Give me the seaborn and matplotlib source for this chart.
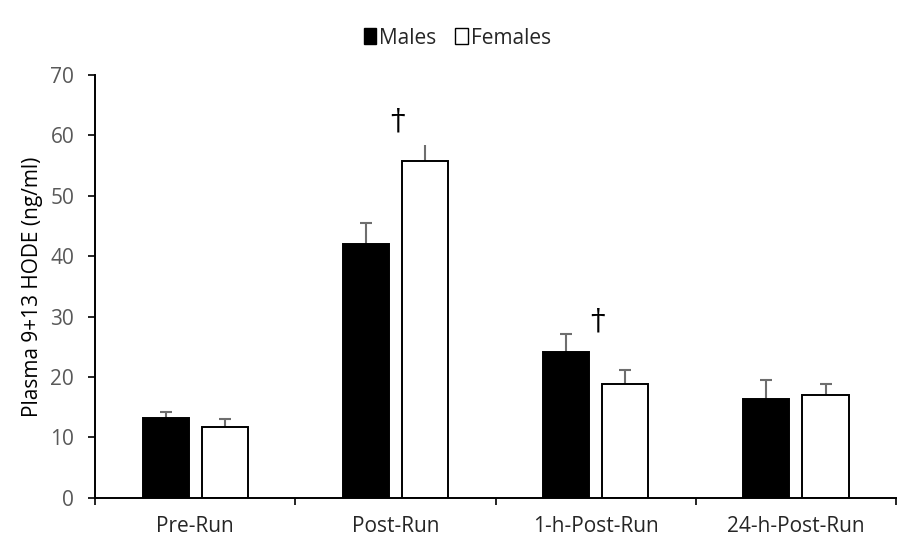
import seaborn as sns
import matplotlib.pyplot as plt
import pandas as pd
import numpy as np
from matplotlib.patches import Patch

# Data
timepoints = ['Pre-Run', 'Post-Run', '1-h-Post-Run', '24-h-Post-Run']
males = [13.2, 42.1, 24.1, 16.4]
females = [11.8, 55.7, 18.9, 17.1]
males_err = [1.0, 3.4, 3.0, 3.1]
females_err = [1.2, 2.7, 2.3, 1.8]
dagger_idx = [1, 2]
dagger_y = [62.3, 29.2]

df = pd.DataFrame({
    'time': timepoints * 2,
    'group': ['Males'] * 4 + ['Females'] * 4,
    'value': males + females,
})

sns.set_theme(style='white')
plt.rcParams['font.family'] = ['Open Sans', 'DejaVu Sans']

fig = plt.figure(figsize=(8.97, 5.44), dpi=100)
ax = fig.add_axes([0.106, 0.085, 0.893, 0.777])

sns.barplot(data=df, x='time', y='value', hue='group', order=timepoints,
            hue_order=['Males', 'Females'], palette=['black', 'white'],
            width=0.59, gap=0.22, errorbar=None, legend=False, ax=ax,
            edgecolor='black', linewidth=1.4, saturation=1, zorder=2)

# Error bars, positioned from the drawn bars; the lower half hides behind the bar
errs = males_err + females_err
vals = males + females
for k, (patch, v, e) in enumerate(zip(ax.patches[:8], vals, errs)):
    xc = patch.get_x() + patch.get_width() / 2
    cap = 0 if k == 5 else 4.3  # Post-Run females bar shows no cap
    ax.errorbar(xc, v, yerr=e, fmt='none', ecolor='#6e6e6e',
                elinewidth=1.5, capsize=cap, capthick=1.5, zorder=1)

# Significance daggers
for i, y in zip(dagger_idx, dagger_y):
    ax.text(i + 0.01, y, '\u2020', ha='center', va='center', fontsize=21,
            color='black', family=['DejaVu Serif'])

ax.set_ylim(0, 70)
ax.set_xlim(-0.5, 3.5)
ax.set_yticks(np.arange(0, 71, 10))
ax.set_xticks(range(4))
ax.set_xticks(np.arange(-0.5, 3.6, 1), minor=True)
ax.tick_params(axis='x', which='major', length=0, labelsize=15,
               labelcolor='#262626', pad=13)
ax.tick_params(axis='x', which='minor', length=5, width=1.2, color='black',
               direction='out', bottom=True)
ax.tick_params(axis='y', length=5, width=1.2, color='black', direction='out',
               left=True, labelsize=15, labelcolor='#595959', pad=10)
ax.set_xlabel('')
ax.set_ylabel('Plasma 9+13 HODE (ng/ml)', fontsize=15, color='black', labelpad=5)

for side in ['top', 'right']:
    ax.spines[side].set_visible(False)
for side in ['left', 'bottom']:
    ax.spines[side].set_color('black')
    ax.spines[side].set_linewidth(1.4)

# Legend at top centre
handles = [Patch(facecolor='black', edgecolor='black', label='Males'),
           Patch(facecolor='white', edgecolor='black', label='Females')]
fig.legend(handles=handles, loc='center', bbox_to_anchor=(0.51, 0.93), ncol=2,
           frameon=False, fontsize=15, handlelength=0.6, handleheight=0.8,
           handletextpad=0.15, columnspacing=0.9)

fig.savefig('out.png', dpi=100)
